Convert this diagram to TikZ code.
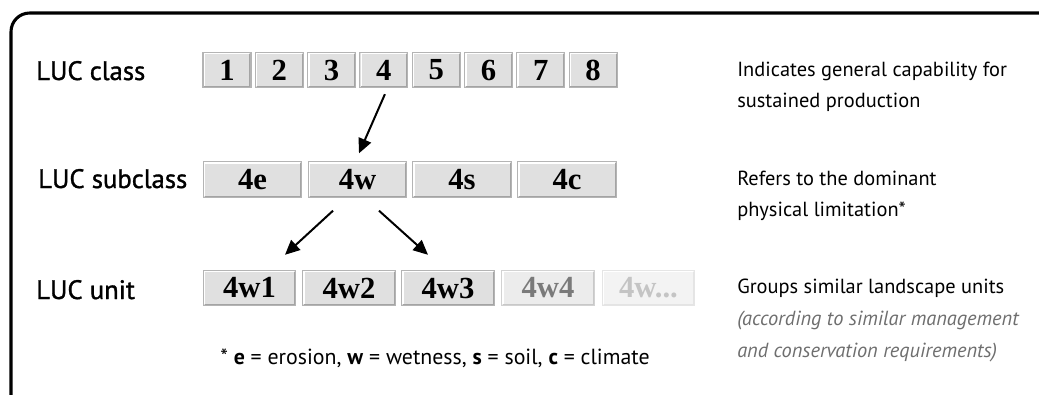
\documentclass[tikz,border=0pt]{standalone}
\usepackage{fontspec}
\setmainfont{PT Sans}
\newfontfamily\lblfont[FakeBold=1.2]{PT Sans}
\newfontfamily\boxfont{Liberation Serif}
\usetikzlibrary{arrows.meta,calc}
\definecolor{boxfill}{HTML}{E0E0E0}
\definecolor{boxline}{HTML}{B4B4B4}
\definecolor{boxdark}{HTML}{A4A4A4}
\definecolor{fadefill}{HTML}{ECECEC}
\definecolor{fadefill2}{HTML}{F3F3F3}
\definecolor{fadetext}{HTML}{7A7A7A}
\definecolor{fadetext2}{HTML}{C4C4C4}
\definecolor{notegray}{HTML}{6E6E6E}
\begin{document}
\begin{tikzpicture}[x=0.75pt,y=-0.75pt,
  bevel/.style 2 args={path picture={
       \draw[#1,line width=1.1pt] ([xshift=1pt,yshift=1.2pt]path picture bounding box.south west) |- ([xshift=-1.2pt,yshift=-1pt]path picture bounding box.north east);
       \draw[#2,line width=1.1pt] ([xshift=1pt,yshift=0.6pt]path picture bounding box.south west) -| ([xshift=-0.6pt,yshift=-1pt]path picture bounding box.north east);
     }},
  cbox/.style={draw=boxline,fill=boxfill,line width=0.8pt,minimum height=26.5pt,inner sep=0pt,
     font=\boxfont\bfseries\fontsize{23}{23}\selectfont,bevel={white}{boxdark}},
  classbox/.style={cbox,minimum width=36pt},
  subbox/.style={cbox,minimum width=74pt},
  unitbox/.style={cbox,minimum width=69.5pt},
  fadebox/.style={unitbox,fill=fadefill,draw=boxline!60,text=fadetext,bevel={white}{boxdark!60}},
  fadebox2/.style={unitbox,fill=fadefill2,draw=boxline!35,text=fadetext2,bevel={white}{boxdark!30}},
  lbl/.style={anchor=base west,inner sep=0pt,font=\lblfont\fontsize{20}{20}\selectfont},
  desc/.style={anchor=base west,inner sep=0pt,font=\fontsize{15.3}{15.3}\selectfont},
  arr/.style={line width=1.5pt,-{Triangle[length=11pt,width=10pt]}}
]
\useasboundingbox (0,0) rectangle (1039,394);
\begin{scope}
\clip (0,0) rectangle (1039,394);
\draw[line width=2.3pt,rounded corners=14pt] (11,13) rectangle (1070,420);
\end{scope}

% labels
\node[lbl] (l1) at (36,80) {LUC class};
\node[lbl] (l2) at (38,188) {LUC subclass};
\node[lbl] (l3) at (36,299) {LUC unit};

% class boxes
\foreach \i in {1,...,8}{
  \node[classbox] (c\i) at ({203+24+(\i-1)*52.3},70) {\i};
}
% subclass boxes
\node[subbox] (s4e) at (252.5,179.5) {4e};
\node[subbox] (s4w) at (357.5,179.5) {4w};
\node[subbox] (s4s) at (462,179.5) {4s};
\node[subbox] (s4c) at (567,179.5) {4c};
% unit boxes
\node[unitbox] (u1) at (249.5,288) {4w1};
\node[unitbox] (u2) at (349,288) {4w2};
\node[unitbox] (u3) at (448,288) {4w3};
\node[fadebox] (u4) at (548,288) {4w4};
\node[fadebox2] (u5) at (648.5,288) {4w...};

% arrows
\draw[arr] ($(c4.south)+(1,6)$) -- ($(s4w.north)+(1.5,-8)$);
\draw[arr] ($(s4w.south)+(-24.5,13)$) -- ($(u1.north)+(35.5,-15)$);
\draw[arr] ($(s4w.south)+(21.5,13)$) -- ($(u3.north)+(-20,-15)$);

% descriptions
\node[desc] (d1) at (737,76) {Indicates general capability for};
\node[desc] (d2) at (737,107) {sustained production};
\node[desc] (d3) at (737,185) {Refers to the dominant};
\node[desc] (d4) at (737,216) {physical limitation*};
\node[desc] (d5) at (737,293) {Groups similar landscape units};
\node[desc,text=notegray,font=\itshape\fontsize{15.3}{15.3}\selectfont] (d6) at (737,325) {(according to similar management};
\node[desc,text=notegray,font=\itshape\fontsize{15.3}{15.3}\selectfont] (d7) at (737,357) {and conservation requirements)};

% footnote
\node[desc,font=\fontsize{16.4}{16.4}\selectfont] (fn) at (220,364) {* \textbf{e} = erosion, \textbf{w} = wetness, \textbf{s} = soil, \textbf{c} = climate};
\end{tikzpicture}
\end{document}
